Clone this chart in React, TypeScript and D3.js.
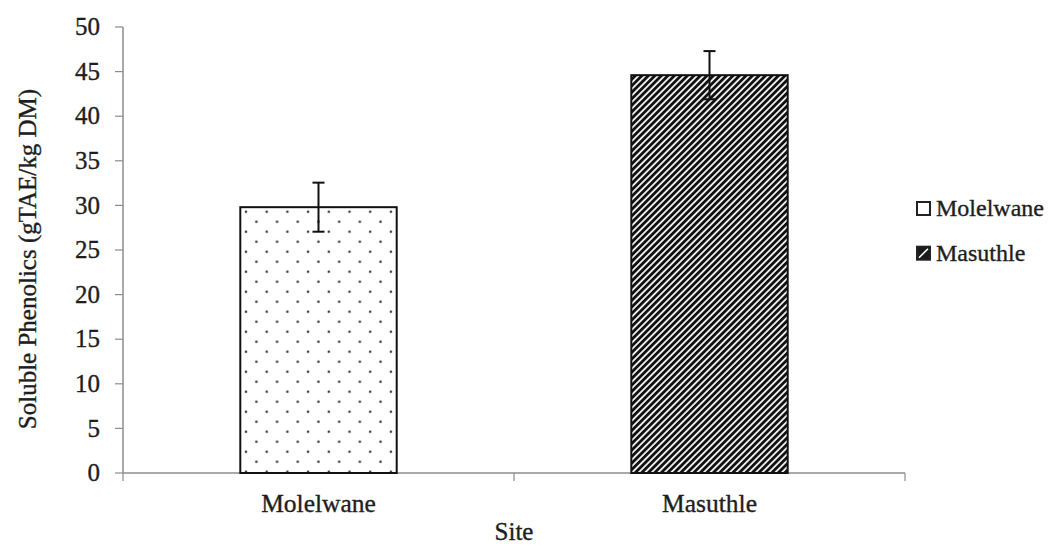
import React from "react";
import * as d3 from "d3";

// Site means and standard errors for soluble phenolics
const sites = ["Molelwane", "Masuthle"];
const means = [29.8, 44.6];
const errors = [2.75, 2.7];
const yTicks = [0, 5, 10, 15, 20, 25, 30, 35, 40, 45, 50];
const fills = ["url(#dots)", "url(#hatch)"];

const W = 1055;
const H = 546;
const FONT = "'Liberation Serif', 'Times New Roman', serif";
const TEXT = "#1e1e1e";
const AXIS = "#8c8c8c";

// shared text styling: serif with a faint outline for a slightly heavier print look
const txt = { fontFamily: FONT, fill: TEXT, stroke: TEXT, strokeWidth: 0.35 };

export default function App() {
  const x = d3.scaleBand<string>().domain(sites).range([123, 905]).paddingInner(0.6).paddingOuter(0.3);
  const y = d3.scaleLinear().domain([0, 50]).range([473, 27]);
  const bw = x.bandwidth();
  const capW = 12;

  return (
    <svg width={W} height={H} style={{ position: "absolute", left: 0, top: 0, background: "#fff" }}>
      <defs>
        <pattern id="dots" patternUnits="userSpaceOnUse" x={246} y={211.7} width={20.7} height={20}>
          <circle cx={0} cy={0} r={1.3} fill="#3a3a3a" />
          <circle cx={20.7} cy={0} r={1.3} fill="#3a3a3a" />
          <circle cx={0} cy={20} r={1.3} fill="#3a3a3a" />
          <circle cx={20.7} cy={20} r={1.3} fill="#3a3a3a" />
          <circle cx={10.35} cy={10} r={1.3} fill="#3a3a3a" />
        </pattern>
        <pattern id="hatch" patternUnits="userSpaceOnUse" width={4.6} height={4.6} patternTransform="rotate(45)">
          <rect width={4.6} height={4.6} fill="#f2f2f2" />
          <rect x={0} width={2.8} height={4.6} fill="#111" />
        </pattern>
      </defs>

      {/* y axis */}
      <line x1={123} x2={123} y1={y(50)} y2={y(0)} stroke={AXIS} strokeWidth={1.5} />
      {yTicks.map((t) => (
        <g key={t}>
          <line x1={115} x2={123} y1={y(t)} y2={y(t)} stroke={AXIS} strokeWidth={1.2} />
          <text x={100} y={y(t)} dy="0.33em" textAnchor="end" fontSize={25} {...txt}>
            {t}
          </text>
        </g>
      ))}

      {/* x axis with boundary ticks */}
      <line x1={123} x2={905} y1={y(0)} y2={y(0)} stroke={AXIS} strokeWidth={1.5} />
      {[123, (123 + 905) / 2, 905].map((px, i) => (
        <line key={i} x1={px} x2={px} y1={y(0)} y2={y(0) + 8} stroke={AXIS} strokeWidth={1.2} />
      ))}

      {/* bars */}
      {sites.map((s, i) => (
        <rect
          key={s}
          x={x(s)!}
          y={y(means[i])}
          width={bw}
          height={y(0) - y(means[i])}
          fill={fills[i]}
          stroke="#111"
          strokeWidth={2}
        />
      ))}

      {/* error bars */}
      {sites.map((s, i) => {
        const cx = x(s)! + bw / 2;
        const top = y(means[i] + errors[i]);
        const bot = y(means[i] - errors[i]);
        return (
          <g key={s} stroke="#111" strokeWidth={2}>
            <line x1={cx} x2={cx} y1={top} y2={bot} />
            <line x1={cx - capW / 2} x2={cx + capW / 2} y1={top} y2={top} />
            <line x1={cx - capW / 2} x2={cx + capW / 2} y1={bot} y2={bot} />
          </g>
        );
      })}

      {/* category labels */}
      {sites.map((s) => (
        <text key={s} x={x(s)! + bw / 2} y={512} textAnchor="middle" fontSize={25.5} {...txt}>
          {s}
        </text>
      ))}

      {/* axis titles */}
      <text x={(123 + 905) / 2} y={540} textAnchor="middle" fontSize={25} {...txt}>
        Site
      </text>
      <text transform={`translate(36, 259) rotate(-90)`} textAnchor="middle" fontSize={25} {...txt}>
        Soluble Phenolics (gTAE/kg DM)
      </text>

      {/* legend */}
      {sites.map((s, i) => {
        const ly = 202 + i * 44.7;
        return (
          <g key={s}>
            {i === 0 ? (
              <rect x={917} y={ly} width={13} height={13} fill="#fff" stroke="#222" strokeWidth={2} />
            ) : (
              <g>
                <rect x={917} y={ly} width={13} height={13} fill="#1a1a1a" stroke="#222" strokeWidth={2} />
                <line x1={919} y1={ly + 11} x2={928} y2={ly + 2} stroke="#fff" strokeWidth={1.6} />
              </g>
            )}
            <text x={936} y={ly + 14} fontSize={24} {...txt}>
              {s}
            </text>
          </g>
        );
      })}
    </svg>
  );
}
